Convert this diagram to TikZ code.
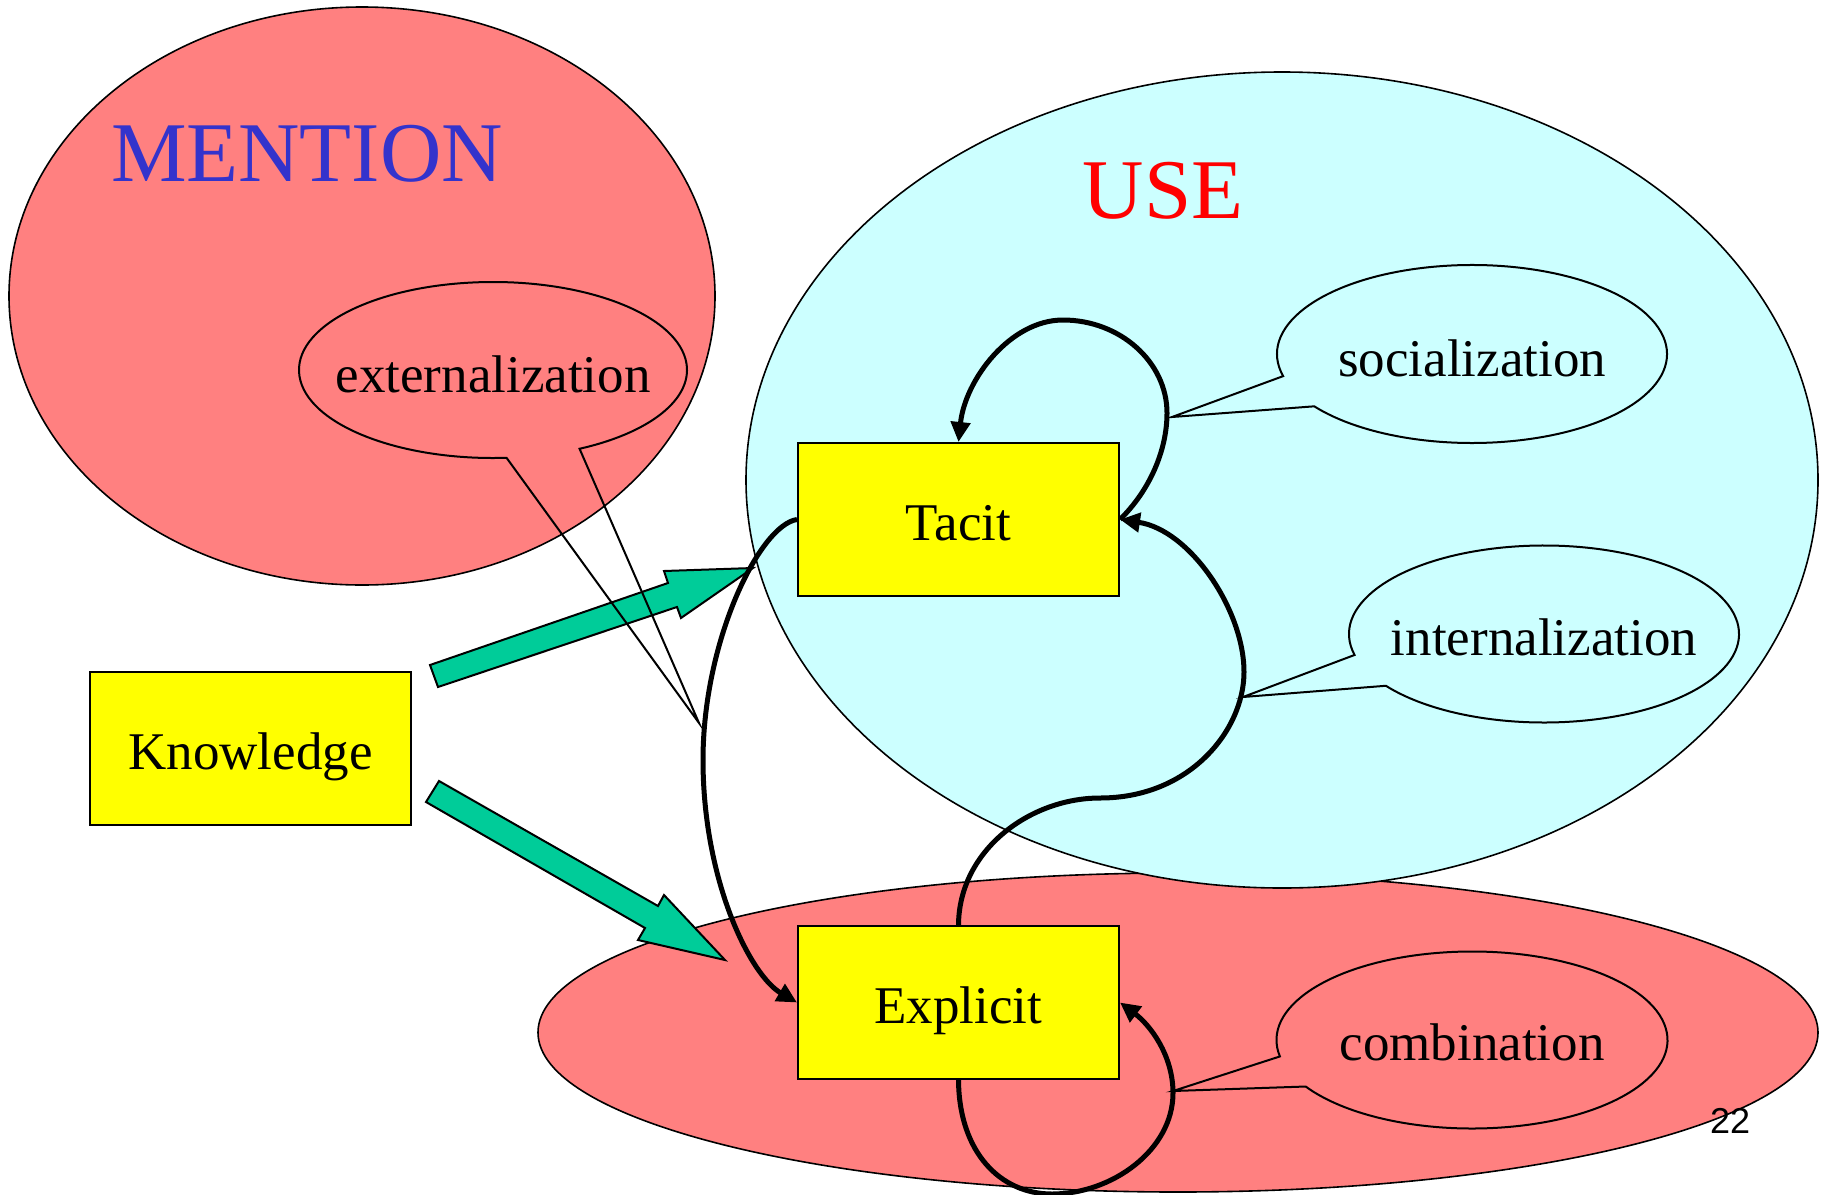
\documentclass[tikz,border=0pt]{standalone}
\usepackage{fontspec}
\setmainfont{Liberation Serif}
\newfontfamily\numfont{Liberation Sans}
\usetikzlibrary{arrows.meta,shapes.geometric}
\definecolor{redfill}{HTML}{FF8080}
\definecolor{cyanfill}{HTML}{CCFFFF}
\definecolor{boxyellow}{HTML}{FFFF00}
\definecolor{arrowgreen}{HTML}{00CC99}
\definecolor{mentionblue}{HTML}{3333CC}
\definecolor{usered}{HTML}{FF0000}
\begin{document}
\begin{tikzpicture}[x=1pt,y=-1pt,
  region/.style={ellipse, draw=black, line width=1.6pt, inner sep=0pt},
  conceptbox/.style={rectangle, draw=black, fill=boxyellow, line width=2pt,
    minimum width=321pt, minimum height=153pt, inner sep=0pt,
    text height=54pt, text depth=12pt, font=\fontsize{53}{60}\selectfont},
  bubble/.style={draw=black, line width=2pt, line join=miter},
  bubbletext/.style={anchor=base, inner sep=0pt, font=\fontsize{53}{60}\selectfont},
  bigtitle/.style={anchor=base, inner sep=0pt, font=\fontsize{85}{95}\selectfont},
  bigarrow/.style={draw=black, fill=arrowgreen, line width=2pt, line join=miter},
  flow/.style={line width=5pt, -{Triangle[length=20pt,width=19pt]}},
]
\useasboundingbox (0,0) rectangle (1825,1194);

% regions
\node[region, fill=redfill, minimum width=706pt, minimum height=578pt] (mention) at (362,296) {};
\node[region, fill=redfill, minimum width=1280pt, minimum height=319pt] (explicitregion) at (1178,1032.5) {};
\node[region, fill=cyanfill, minimum width=1072pt, minimum height=816pt] (use) at (1282,480) {};

\node[bigtitle, text=mentionblue] (mentiontitle) at (307,181) {MENTION};
\node[bigtitle, text=usered] (usetitle) at (1163,218) {USE};

% concept boxes
\node[conceptbox] (knowledge) at (250.5,748) {Knowledge};
\node[conceptbox] (tacit) at (958.5,519.5) {Tacit};
\node[conceptbox] (explicit) at (958.5,1002.5) {Explicit};

% green block arrows
\draw[bigarrow] (430,665) -- (668,583) -- (664,571) -- (753,568) -- (681,618) -- (677,607) -- (438,687) -- cycle;
\draw[bigarrow] (439,781) -- (658,906) -- (664,895) -- (725,960) -- (638,940) -- (645,928) -- (426,802) -- cycle;

% callouts
\draw[bubble] (493,370) ++(86:194 and 88) arc[start angle=86, end angle=423.5, x radius=194, y radius=88] -- (699,723) -- cycle;
\node[bubbletext] (ext) at (493,392) {externalization};

\draw[bubble] (1472,354) ++(165.6:195 and 89) arc[start angle=165.6, end angle=504, x radius=195, y radius=89] -- (1172,417) -- cycle;
\node[bubbletext] (soc) at (1472,376) {socialization};

\draw[bubble] (1544,634) ++(166.3:195 and 88.5) arc[start angle=166.3, end angle=504.2, x radius=195, y radius=88.5] -- (1243,697) -- cycle;
\node[bubbletext] (int) at (1544,655) {internalization};

\draw[bubble] (1472,1040) ++(169.3:195.5 and 88.5) arc[start angle=169.3, end angle=508.3, x radius=195.5, y radius=88.5] -- (1173,1091) -- cycle;
\node[bubbletext] (comb) at (1472,1060) {combination};

% knowledge conversion flows
\draw[flow] (tacit.east) .. controls (1150,490) and (1167,450) .. (1167,413)
  .. controls (1167,362) and (1120,320) .. (1063,320)
  .. controls (1010,320) and (965,380) .. (tacit.north);
\draw[flow] (tacit.west) .. controls (760,525) and (703,640) .. (703,760)
  .. controls (703,880) and (750,975) .. (explicit.west);
\draw[flow] (explicit.north) .. controls (959,850) and (1030,798) .. (1100,798)
  .. controls (1190,798) and (1244,730) .. (1244,672)
  .. controls (1244,610) and (1190,530) .. (tacit.east);
\draw[flow] (explicit.south) .. controls (959,1152) and (1000,1194) .. (1052,1194)
  .. controls (1112,1194) and (1173,1150) .. (1173,1093)
  .. controls (1173,1055) and (1150,1025) .. (explicit.east);

\node[anchor=base, inner sep=0pt, font=\numfont\fontsize{36}{40}\selectfont] (pagenum) at (1730,1133) {22};
\end{tikzpicture}
\end{document}
